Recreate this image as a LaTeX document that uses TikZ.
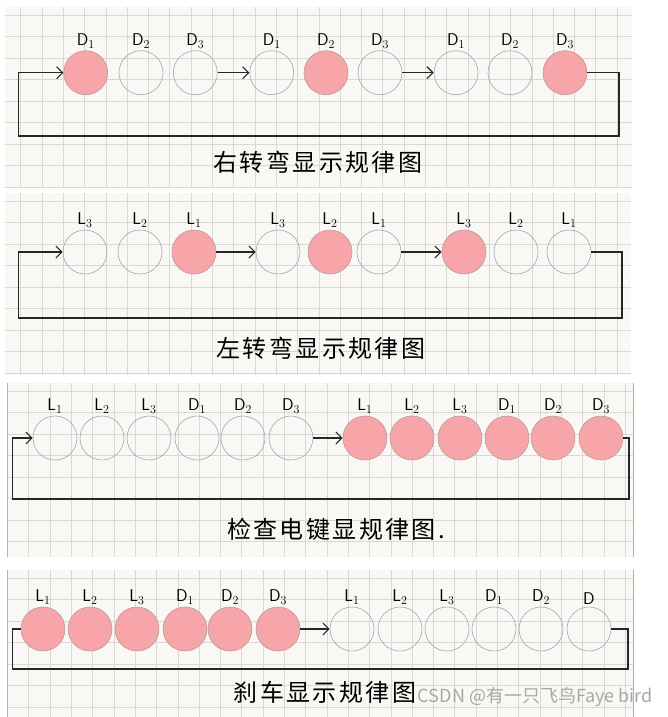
\documentclass[tikz,border=0pt]{standalone}
\usepackage{fontspec}
\newfontfamily\cjk[LetterSpace=10]{Noto Sans CJK SC}
\newfontfamily\wmfont{Noto Sans CJK SC}
\usetikzlibrary{arrows.meta}
\definecolor{paper}{HTML}{FAF8F4}
\definecolor{gridc}{HTML}{DBD7D3}
\definecolor{pinkf}{HTML}{F8A5AA}
\definecolor{pinkd}{HTML}{B89A9E}
\definecolor{ringc}{HTML}{9AA8BC}
\tikzset{
  panel/.style={fill=paper,draw=none},
  off/.style={circle,draw=ringc,line width=0.6pt,minimum size=44pt,inner sep=0pt},
  on/.style={circle,draw=pinkd,fill=pinkf,line width=0.6pt,minimum size=44pt,inner sep=0pt},
  lbl/.style={font=\sffamily\fontsize{17}{17}\selectfont,inner sep=1pt},
  ttl/.style={font=\cjk\fontsize{24}{24}\selectfont,inner sep=0pt},
  lp/.style={line width=1.4pt,black!85},
  arr/.style={line width=1.1pt,black!85,-{Straight Barb[length=6pt,width=12pt,line width=1.1pt]}},
}
\newcommand{\gridpanel}[5]{% x1,y1,x2,y2,xoff
  \fill[paper] (#1,#2) rectangle (#3,#4);
  \begin{scope}
    \clip (#1,#2) rectangle (#3,#4);
    \foreach \gx in {0,...,30} {\draw[gridc,line width=0.7pt] ({#5+21.3*\gx},#2) -- ({#5+21.3*\gx},#4);}
    \foreach \gy in {0,...,9} {\draw[gridc,line width=0.7pt] (#1,{#2+8+21.5*\gy}) -- (#3,{#2+8+21.5*\gy});}
  \end{scope}}
\begin{document}
\begin{tikzpicture}[x=1pt,y=-1pt]
\useasboundingbox (0,0) rectangle (667,717);
\fill[white] (0,0) rectangle (667,717);
% panels
\gridpanel{5}{7}{632}{187}{20.7}
\gridpanel{5}{193}{631}{375}{20.7}
\gridpanel{7}{383}{633}{557}{7.5}
\draw[gray!60,line width=1pt] (7,383) -- (7,557) (633,383) -- (633,557);
\gridpanel{7}{570}{633}{717}{7.5}
\draw[gray!60,line width=1pt] (7,570) -- (7,717) (633,570) -- (633,717);

% ---------- panel 1 ----------
\foreach \n/\x/\s/\t in {1/85.7/on/{D$_1$},2/141/off/{D$_2$},3/195.3/off/{D$_3$},4/271.7/off/{D$_1$},5/326/on/{D$_2$},6/380/off/{D$_3$},7/456/off/{D$_1$},8/510/off/{D$_2$},9/565/on/{D$_3$}}
  {\node[\s,label={[lbl,label distance=1pt]90:\t}] (p1c\n) at (\x,72.7) {};}
\coordinate (p1s) at (18.3,72.7);
\coordinate (p1a) at (619,72.7);
\coordinate (p1b) at (619,136);
\coordinate (p1c) at (18.3,136);
\draw[lp] (p1c9) -- (p1a) -- (p1b) -- (p1c) -- (p1s);
\draw[arr] (p1s) -- (p1c1);
\draw[arr] (p1c3) -- (p1c4);
\draw[arr] (p1c6) -- (p1c7);
\node[ttl] (t1) at (318,162) {右转弯显示规律图};

% ---------- panel 2 ----------
\foreach \n/\x/\s/\t in {1/85/off/{L$_3$},2/140/off/{L$_2$},3/194/on/{L$_1$},4/278/off/{L$_3$},5/330/on/{L$_2$},6/379/off/{L$_1$},7/464/on/{L$_3$},8/516/off/{L$_2$},9/569/off/{L$_1$}}
  {\node[\s,label={[lbl,label distance=1pt]90:\t}] (p2c\n) at (\x,252) {};}
\coordinate (p2s) at (18.3,252);
\coordinate (p2a) at (622,252);
\coordinate (p2b) at (622,318);
\coordinate (p2c) at (18.3,318);
\draw[lp] (p2c9) -- (p2a) -- (p2b) -- (p2c) -- (p2s);
\draw[arr] (p2s) -- (p2c1);
\draw[arr] (p2c3) -- (p2c4);
\draw[arr] (p2c6) -- (p2c7);
\node[ttl] (t2) at (321,348) {左转弯显示规律图};

% ---------- panel 3 ----------
\foreach \n/\x/\s/\t in {1/55/off/{L$_1$},2/102/off/{L$_2$},3/149/off/{L$_3$},4/197/off/{D$_1$},5/243/off/{D$_2$},6/291/off/{D$_3$},7/365/on/{L$_1$},8/412/on/{L$_2$},9/460/on/{L$_3$},10/507/on/{D$_1$},11/553/on/{D$_2$},12/601/on/{D$_3$}}
  {\node[\s,label={[lbl,label distance=1pt]90:\t}] (p3c\n) at (\x,438) {};}
\coordinate (p3s) at (12.3,438);
\coordinate (p3a) at (629,438);
\coordinate (p3b) at (629,499);
\coordinate (p3c) at (12.3,499);
\draw[lp] (p3c12) -- (p3a) -- (p3b) -- (p3c) -- (p3s);
\draw[arr] (p3s) -- (p3c1);
\draw[arr] (p3c6) -- (p3c7);
\node[ttl] (t3) at (336,529) {检查电键显规律图.};

% ---------- panel 4 ----------
\foreach \n/\x/\s/\t in {1/43/on/{L$_1$},2/90/on/{L$_2$},3/137/on/{L$_3$},4/185/on/{D$_1$},5/230/on/{D$_2$},6/278/on/{D$_3$},7/352/off/{L$_1$},8/400/off/{L$_2$},9/447/off/{L$_3$},10/494/off/{D$_1$},11/541/off/{D$_2$},12/589/off/{D}}
  {\node[\s,label={[lbl,label distance=1pt]90:\t}] (p4c\n) at (\x,629) {};}
\coordinate (p4s) at (12.3,629);
\coordinate (p4a) at (628,629);
\coordinate (p4b) at (628,669);
\coordinate (p4c) at (12.3,669);
\draw[lp] (p4c12) -- (p4a) -- (p4b) -- (p4c) -- (p4s) -- (p4c1);
\draw[arr] (p4c6) -- (p4c7);
\node[ttl] (t4) at (325,692) {刹车显示规律图};

% watermark
\node[font=\wmfont\fontsize{18}{18}\selectfont,text=gray!75,opacity=0.9,inner sep=0pt,anchor=east] (wm) at (653,697) {CSDN @有一只飞鸟Faye bird};
\end{tikzpicture}
\end{document}
